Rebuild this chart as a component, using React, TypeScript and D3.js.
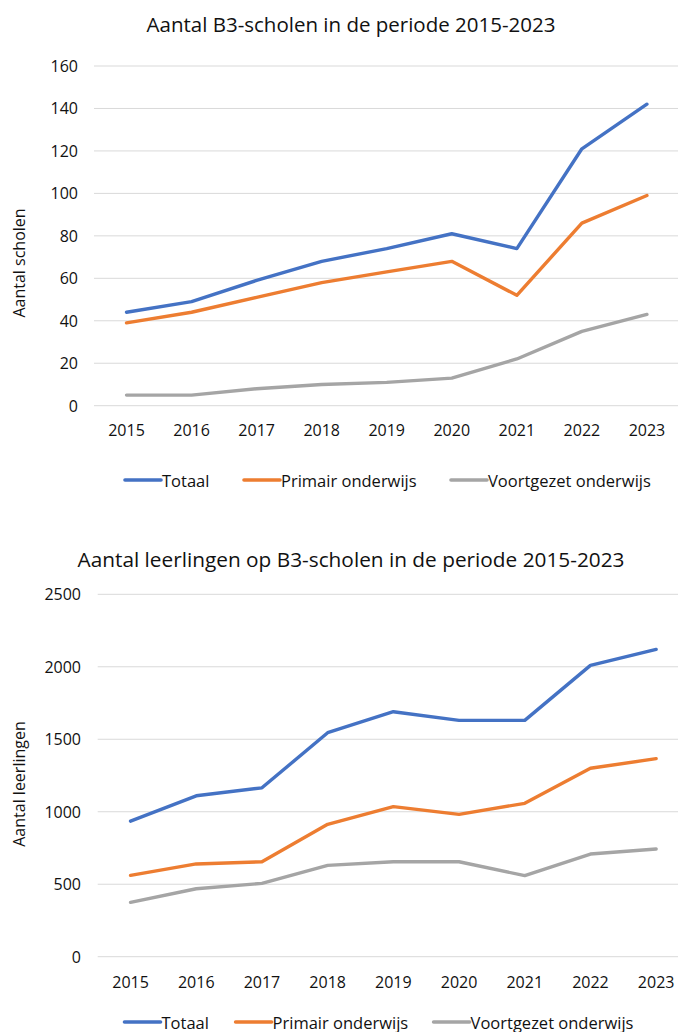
import * as d3 from 'd3';
import {useEffect, useRef} from 'react';

const years = ['2015', '2016', '2017', '2018', '2019', '2020', '2021', '2022', '2023'];
const seriesNames = ['Totaal', 'Primair onderwijs', 'Voortgezet onderwijs'];
const colors = ['#4472C4', '#ED7D31', '#A5A5A5'];

// chart 1: aantal scholen
const scholenTotaal = [44, 49, 59, 68, 74, 81, 74, 121, 142];
const scholenPrimair = [39, 44, 51, 58, 63, 68, 52, 86, 99];
const scholenVoortgezet = [5, 5, 8, 10, 11, 13, 22, 35, 43];
const scholenTicks = [0, 20, 40, 60, 80, 100, 120, 140, 160];

// chart 2: aantal leerlingen
const leerlingenTotaal = [935, 1110, 1165, 1545, 1690, 1630, 1630, 2010, 2120];
const leerlingenPrimair = [561, 640, 655, 913, 1035, 982, 1058, 1300, 1366];
const leerlingenVoortgezet = [375, 469, 506, 630, 655, 655, 559, 708, 743];
const leerlingenTicks = [0, 500, 1000, 1500, 2000, 2500];

const FONT = '"Open Sans", sans-serif';
const TEXT = '#111';

type ChartCfg = {
    title: string;
    titleY: number;
    titleSize: number;
    yTitle: string;
    yTitleY: number;
    series: number[][];
    ticks: number[];
    xStart: number;
    band: number;
    yBottom: number;
    yTop: number;
    labelRight: number;
    xLabelY: number;
    legendY: number;
    legendX: number[];
};

const charts: ChartCfg[] = [
    {
        title: 'Aantal B3-scholen in de periode 2015-2023',
        titleY: 24,
        titleSize: 20.5,
        yTitle: 'Aantal scholen',
        yTitleY: 263,
        series: [scholenTotaal, scholenPrimair, scholenVoortgezet],
        ticks: scholenTicks,
        xStart: 94,
        band: 65.05,
        yBottom: 405.7,
        yTop: 66,
        labelRight: 78,
        xLabelY: 430,
        legendY: 480,
        legendX: [125, 244, 451],
    },
    {
        title: 'Aantal leerlingen op B3-scholen in de periode 2015-2023',
        titleY: 559,
        titleSize: 20.8,
        yTitle: 'Aantal leerlingen',
        yTitleY: 784,
        series: [leerlingenTotaal, leerlingenPrimair, leerlingenVoortgezet],
        ticks: leerlingenTicks,
        xStart: 97.7,
        band: 65.7,
        yBottom: 956.7,
        yTop: 594.3,
        labelRight: 81,
        xLabelY: 982,
        legendY: 1022,
        legendX: [124.5, 235.6, 433.6],
    },
];

export default function App() {
    const svgRef = useRef<SVGSVGElement>(null);

    useEffect(() => {
        const svg = d3.select(svgRef.current);
        svg.selectAll('*').remove();

        charts.forEach(cfg => {
            const g = svg.append('g');

            const x = d3.scaleBand()
                .domain(years)
                .range([cfg.xStart, cfg.xStart + cfg.band * years.length])
                .padding(0);
            const y = d3.scaleLinear()
                .domain([0, cfg.ticks[cfg.ticks.length - 1]])
                .range([cfg.yBottom, cfg.yTop]);
            const cx = (d: string) => (x(d) as number) + x.bandwidth() / 2;

            // title
            g.append('text')
                .attr('x', 351)
                .attr('y', cfg.titleY)
                .attr('text-anchor', 'middle')
                .attr('dominant-baseline', 'central')
                .attr('font-family', FONT)
                .attr('font-size', cfg.titleSize)
                .attr('fill', TEXT)
                .text(cfg.title);

            // gridlines
            g.selectAll('.grid')
                .data(cfg.ticks)
                .enter()
                .append('line')
                .attr('x1', x.range()[0])
                .attr('x2', x.range()[1])
                .attr('y1', d => y(d))
                .attr('y2', d => y(d))
                .attr('stroke', '#D9D9D9')
                .attr('stroke-width', 1);

            // y tick labels
            g.selectAll('.ylab')
                .data(cfg.ticks)
                .enter()
                .append('text')
                .attr('x', cfg.labelRight)
                .attr('y', d => y(d))
                .attr('text-anchor', 'end')
                .attr('dominant-baseline', 'central')
                .attr('font-family', FONT)
                .attr('font-size', 16)
                .attr('fill', TEXT)
                .text(d => d);

            // x tick labels
            g.selectAll('.xlab')
                .data(years)
                .enter()
                .append('text')
                .attr('x', d => cx(d))
                .attr('y', cfg.xLabelY)
                .attr('text-anchor', 'middle')
                .attr('dominant-baseline', 'central')
                .attr('font-family', FONT)
                .attr('font-size', 16)
                .attr('fill', TEXT)
                .text(d => d);

            // y axis title
            g.append('text')
                .attr('transform', `translate(19, ${cfg.yTitleY}) rotate(-90)`)
                .attr('text-anchor', 'middle')
                .attr('dominant-baseline', 'central')
                .attr('font-family', FONT)
                .attr('font-size', 16)
                .attr('fill', TEXT)
                .text(cfg.yTitle);

            // lines, drawn back to front
            const line = d3.line<number>()
                .x((d, i) => cx(years[i]))
                .y(d => y(d));

            [2, 1, 0].forEach(si => {
                g.append('path')
                    .datum(cfg.series[si])
                    .attr('d', line)
                    .attr('fill', 'none')
                    .attr('stroke', colors[si])
                    .attr('stroke-width', 3.4)
                    .attr('stroke-linejoin', 'round')
                    .attr('stroke-linecap', 'round');
            });

            // legend
            const legend = g.selectAll('.legend-item')
                .data(seriesNames)
                .enter()
                .append('g');

            legend.append('line')
                .attr('x1', (d, i) => cfg.legendX[i])
                .attr('x2', (d, i) => cfg.legendX[i] + 36)
                .attr('y1', cfg.legendY)
                .attr('y2', cfg.legendY)
                .attr('stroke', (d, i) => colors[i])
                .attr('stroke-width', 3.6)
                .attr('stroke-linecap', 'round');

            legend.append('text')
                .attr('x', (d, i) => cfg.legendX[i] + 37)
                .attr('y', cfg.legendY)
                .attr('dominant-baseline', 'central')
                .attr('font-family', FONT)
                .attr('font-size', 16.5)
                .attr('fill', TEXT)
                .text(d => d);
        });
    }, []);

    return (
        <svg
            ref={svgRef}
            width={678}
            height={1032}
            style={{position: 'absolute', left: 0, top: 0, background: '#fff'}}
        />
    );
}
